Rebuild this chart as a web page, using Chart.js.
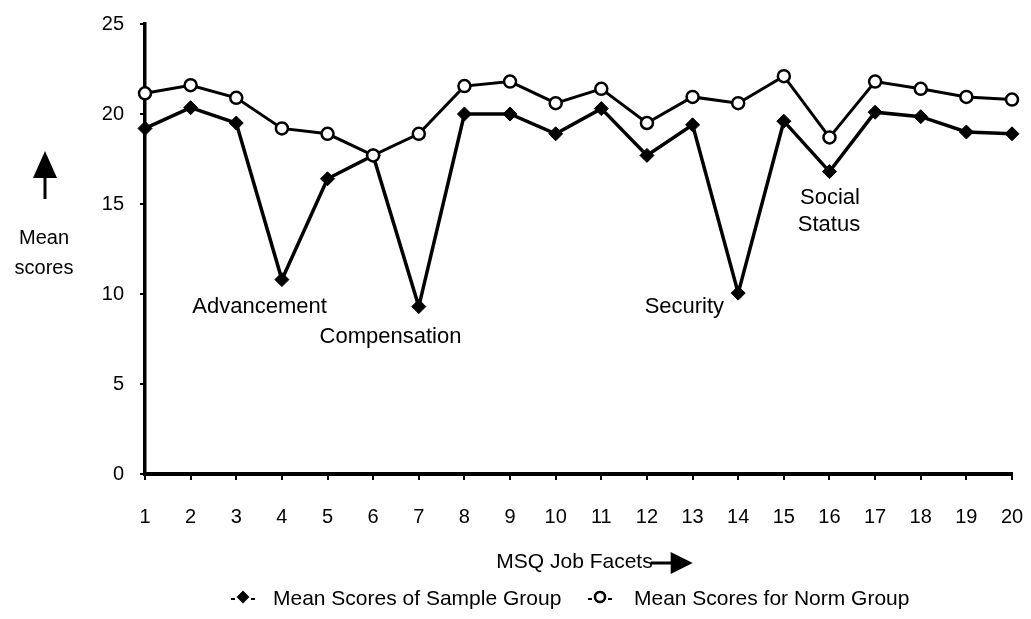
<!DOCTYPE html>
<html>
<head>
<meta charset="utf-8">
<title>MSQ Job Facets</title>
<script src="https://cdn.jsdelivr.net/npm/chart.js@4.4.1/dist/chart.umd.min.js"></script>
<style>
  html, body { margin: 0; padding: 0; background: #fff; }
  #wrap { width: 1031px; height: 619px; }
</style>
</head>
<body>
<div id="wrap"><canvas id="msqChart" width="1031" height="619"></canvas></div>
<script>
// MSQ job facets 1..20
var facets = ['1', '2', '3', '4', '5', '6', '7', '8', '9', '10',
  '11', '12', '13', '14', '15', '16', '17', '18', '19', '20'];

// mean scores
var sampleScores = [19.2, 20.35, 19.5, 10.8, 16.4, 17.7, 9.3, 20.0, 20.0, 18.9,
  20.3, 17.7, 19.4, 10.05, 19.6, 16.8, 20.1, 19.85, 19.0, 18.9];
var normScores = [21.15, 21.6, 20.9, 19.2, 18.9, 17.7, 18.9, 21.55, 21.8, 20.6,
  21.4, 19.5, 20.95, 20.6, 22.1, 18.7, 21.8, 21.4, 20.95, 20.8];

var yMin = 0;
var yMax = 25;
var yStep = 5;

var seriesNames = ['Mean Scores of Sample Group', 'Mean Scores for Norm Group'];
var notes = ['Advancement', 'Compensation', 'Security', 'Social', 'Status'];

var FONT = '"Liberation Sans", Arial, Helvetica, sans-serif';

// where the facet notes sit, in data units (x = category index, y = score)
var notePos = [
  {x: 2.51, y: 9.28},
  {x: 5.38, y: 7.6},
  {x: 11.82, y: 9.28},
  {x: 15.01, y: 15.33},
  {x: 14.99, y: 13.83}
];

// draws the notes, the axis titles with arrows and the legend
var decorPlugin = {
  id: 'decor',
  afterDraw: function (chart) {
    var ctx = chart.ctx;
    var xs = chart.scales.x;
    var ys = chart.scales.y;
    var area = chart.chartArea;
    ctx.save();
    ctx.fillStyle = '#000';
    ctx.strokeStyle = '#000';
    ctx.font = '22px ' + FONT;
    ctx.textAlign = 'center';
    ctx.textBaseline = 'middle';

    // notes next to the dips
    for (var i = 0; i < notes.length; i++) {
      ctx.fillText(notes[i], xs.getPixelForValue(notePos[i].x), ys.getPixelForValue(notePos[i].y));
    }

    // y title with up arrow
    ctx.font = '20px ' + FONT;
    ctx.fillText('Mean', 44, 238);
    ctx.fillText('scores', 44, 268);
    ctx.lineWidth = 3;
    ctx.beginPath();
    ctx.moveTo(45, 199);
    ctx.lineTo(45, 172);
    ctx.stroke();
    ctx.beginPath();
    ctx.moveTo(45, 151);
    ctx.lineTo(57, 178);
    ctx.lineTo(33, 178);
    ctx.closePath();
    ctx.fill();

    // x title with right arrow
    var midX = (area.left + area.right) / 2;
    ctx.font = '21px ' + FONT;
    var tw = ctx.measureText('MSQ Job Facets').width;
    ctx.fillText('MSQ Job Facets', midX - 4, 562);
    var ax = midX - 4 + tw / 2;
    ctx.beginPath();
    ctx.moveTo(ax - 2, 563);
    ctx.lineTo(ax + 22, 563);
    ctx.stroke();
    ctx.beginPath();
    ctx.moveTo(ax + 18, 552);
    ctx.lineTo(ax + 40, 563);
    ctx.lineTo(ax + 18, 574);
    ctx.closePath();
    ctx.fill();

    // legend
    var legY = 599;
    var items = [
      {cx: 243, tx: 273, ds: chart.data.datasets[1]},
      {cx: 600, tx: 634, ds: chart.data.datasets[0]}
    ];
    ctx.font = '21px ' + FONT;
    ctx.textAlign = 'left';
    items.forEach(function (it) {
      ctx.lineWidth = 2;
      ctx.beginPath();
      ctx.moveTo(it.cx - 12, legY);
      ctx.lineTo(it.cx - 8, legY);
      ctx.moveTo(it.cx + 8, legY);
      ctx.lineTo(it.cx + 12, legY);
      ctx.stroke();
      Chart.helpers.drawPoint(ctx, {
        pointStyle: it.ds.pointStyle,
        radius: 5,
        borderWidth: it.ds.pointBorderWidth
      }, it.cx, legY - 2);
      ctx.fillStyle = it.ds.pointBackgroundColor;
      ctx.fill();
      ctx.strokeStyle = '#000';
      ctx.lineWidth = it.ds.pointBorderWidth;
      ctx.stroke();
      ctx.fillStyle = '#000';
      ctx.fillText(it.ds.label, it.tx, legY);
    });
    ctx.restore();
  }
};

new Chart(document.getElementById('msqChart'), {
  type: 'line',
  data: {
    labels: facets,
    datasets: [{
      label: seriesNames[1],
      data: normScores,
      borderColor: '#000',
      borderWidth: 3,
      pointStyle: 'circle',
      pointRadius: 6,
      pointBackgroundColor: '#fff',
      pointBorderColor: '#000',
      pointBorderWidth: 2.5,
      tension: 0,
      order: 0
    }, {
      label: seriesNames[0],
      data: sampleScores,
      borderColor: '#000',
      borderWidth: 3.5,
      pointStyle: 'rectRot',
      pointRadius: 7,
      pointBackgroundColor: '#000',
      pointBorderColor: '#000',
      pointBorderWidth: 1,
      tension: 0,
      order: 1
    }]
  },
  options: {
    responsive: false,
    animation: false,
    layout: { autoPadding: false, padding: { top: 24, right: 19, left: 0, bottom: 0 } },
    plugins: {
      legend: { display: false },
      tooltip: { enabled: false }
    },
    scales: {
      x: {
        type: 'category',
        offset: false,
        grid: { drawOnChartArea: false, color: '#000', lineWidth: 2, tickLength: 6 },
        border: { display: true, color: '#000', width: 4 },
        ticks: { color: '#000', font: { family: FONT, size: 20 }, padding: 25, maxRotation: 0, autoSkip: false },
        afterFit: function (scale) {
          scale.height = 145;
          scale.paddingLeft = 0;
          scale.paddingRight = 0;
        }
      },
      y: {
        min: yMin,
        max: yMax,
        grid: { drawOnChartArea: false, color: '#000', lineWidth: 2, tickLength: 5 },
        border: { display: true, color: '#000', width: 3.5 },
        ticks: { stepSize: yStep, color: '#000', font: { family: FONT, size: 20 }, padding: 16 },
        afterFit: function (scale) {
          scale.width = 145;
          scale.paddingTop = 0;
          scale.paddingBottom = 0;
        }
      }
    }
  },
  plugins: [decorPlugin]
});
</script>
</body>
</html>
